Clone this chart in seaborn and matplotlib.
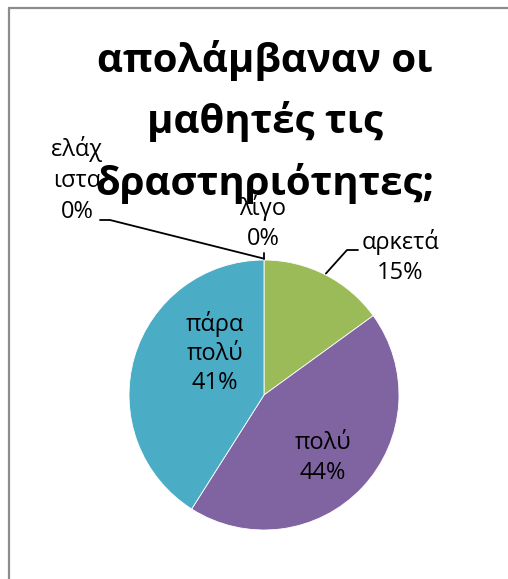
import matplotlib
matplotlib.use("Agg")
import matplotlib.pyplot as plt
from matplotlib.lines import Line2D
import numpy as np
import seaborn as sns

categories = ["ελάχιστα", "λίγο", "αρκετά", "πολύ", "πάρα πολύ"]
values = [0, 0, 15, 44, 41]
label_texts = ["ελάχ\nιστα\n0%", "λίγο\n0%", "αρκετά\n15%", "πολύ\n44%", "πάρα\nπολύ\n41%"]
title_text = "απολάμβαναν οι\nμαθητές τις\nδραστηριότητες;"

sns.set_theme(style="white")
FONT = ["Open Sans", "DejaVu Sans"]
plt.rcParams["font.family"] = FONT

colors = sns.color_palette(["#4F81BD", "#C0504D", "#9BBB59", "#8064A2", "#4BACC6"])

W, H = 508, 579
fig = plt.figure(figsize=(W / 100, H / 100), dpi=100)
fig.patch.set_facecolor("white")

# chart frame (left and top edges visible)
fig.add_artist(Line2D([8.5 / W, 8.5 / W], [0, 1 - 7.5 / H], color="#8c8c8c", lw=1.6,
                      transform=fig.transFigure))
fig.add_artist(Line2D([8.5 / W, 1], [1 - 7.5 / H, 1 - 7.5 / H], color="#8c8c8c", lw=1.6,
                      transform=fig.transFigure))

cx, cy, R = 264, 395, 135
ax = fig.add_axes([(cx - R) / W, (H - cy - R) / H, 2 * R / W, 2 * R / H])

wedges, _ = ax.pie(values, colors=colors, startangle=90, counterclock=False, radius=1,
                   wedgeprops=dict(edgecolor="white", linewidth=0.6))
ax.set_xlim(-1, 1)
ax.set_ylim(-1, 1)
ax.set_axis_off()

def to_data(px, py):
    return ((px - cx) / R, (cy - py) / R)

lab_kw = dict(ha="center", va="center", fontsize=17, color="black", linespacing=1.28,
              clip_on=False)

# inside labels
ax.text(*to_data(215, 353), label_texts[4], **lab_kw)
ax.text(*to_data(323, 458), label_texts[3], **lab_kw)
# outside labels
ax.text(*to_data(400, 257), label_texts[2], **lab_kw)
ax.text(*to_data(263, 223), label_texts[1], **lab_kw)
ax.text(*to_data(77, 180), label_texts[0], **{**lab_kw, "linespacing": 1.38})

# leader lines
def edge_point(w):
    ang = np.deg2rad((w.theta1 + w.theta2) / 2)
    return np.cos(ang) * 1.01, np.sin(ang) * 1.01

ex, ey = edge_point(wedges[2])
p1 = to_data(347, 250); p2 = to_data(358, 250)
ax.plot([ex, p1[0], p2[0]], [ey, p1[1], p2[1]], color="black", lw=1.3, clip_on=False)

zx, zy = edge_point(wedges[0])
q1 = to_data(110, 220); q2 = to_data(100, 220)
ax.plot([zx, q1[0], q2[0]], [zy, q1[1], q2[1]], color="black", lw=1.3, clip_on=False)
lx, ly = edge_point(wedges[1])
ax.plot([lx, lx], [ly, ly + 0.045], color="black", lw=1.3, clip_on=False)

fig.text(265 / W, 1 - 122 / H, title_text, ha="center", va="center", fontsize=29,
         fontweight="bold", linespacing=1.63, color="black")

fig.savefig("out.png", dpi=100)
